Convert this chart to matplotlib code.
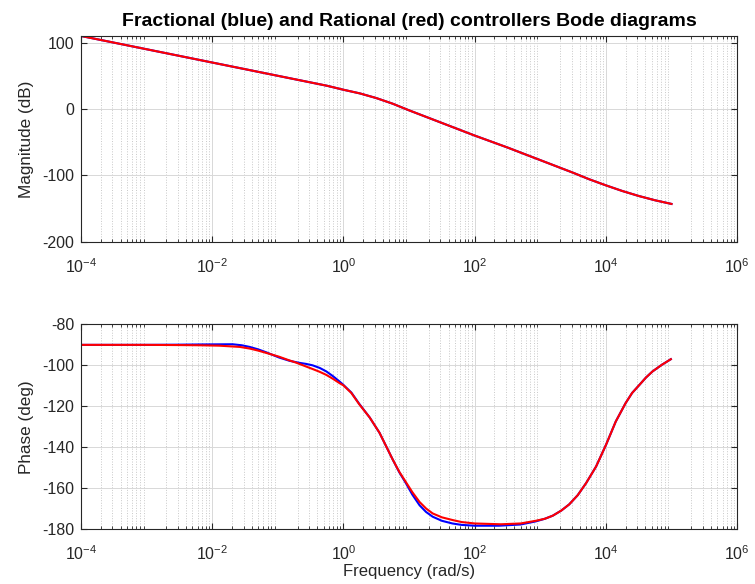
import numpy as np
import matplotlib
matplotlib.use("Agg")
import matplotlib.pyplot as plt
from matplotlib.ticker import LogLocator, NullFormatter

# -----------------------------------------------
# データ (log10 周波数, 値)
# -----------------------------------------------
mag_logw = [-4, -3.5, -3, -2.5, -2, -1.5, -1, -0.5, -0.25, 0, 0.25, 0.5, 0.75,
            1, 1.25, 1.5, 1.75, 2, 2.25, 2.5, 2.75, 3, 3.25, 3.5, 3.75,
            4, 4.25, 4.5, 4.75, 5]
mag_db = [110, 100, 90, 80, 70, 60, 50, 40, 35, 29, 23.5, 16.5, 8,
          -2, -11.5, -21, -30.5, -40, -49, -58, -67.5, -77, -86.5, -96, -106,
          -115, -123.5, -131, -137.5, -143]

red_logw = [-4, -3, -2.5, -2.19, -1.89, -1.58, -1.43, -1.3, -1.18, -0.98,
            -0.85, -0.72, -0.6, -0.47, -0.36, -0.26, -0.16, -0.06, 0.0, 0.12,
            0.24, 0.4, 0.55, 0.65, 0.75, 0.85, 0.95, 1.05, 1.16, 1.26,
            1.36, 1.5, 1.66, 1.8, 2.0, 2.4, 2.7, 2.93, 3.07, 3.19,
            3.32, 3.44, 3.57, 3.70, 3.85, 4.0, 4.15, 4.30, 4.4, 4.51,
            4.61, 4.71, 4.85, 4.99]
red_phase = [-90, -90, -90.1, -90.2, -90.4, -91, -91.8, -92.8, -93.9, -95.8,
             -97.3, -98.7, -100.2, -101.8, -103.2, -104.7, -106.6, -108.7, -109.8, -113.5,
             -119, -125.5, -133, -139.5, -146, -152, -157, -162, -166.8, -170,
             -172.4, -174.3, -175.6, -176.6, -177.3, -177.7, -177.3, -176, -175, -173.5,
             -171, -168, -163.5, -157.5, -149.5, -139, -127.5, -118.5, -113.5, -109.6,
             -106, -103, -99.8, -97]

blue_logw = [-4, -3, -2.5, -2.19, -1.69, -1.55, -1.43, -1.3, -1.18, -0.98,
             -0.82, -0.67, -0.57, -0.47, -0.36, -0.26, -0.16, -0.06, 0.0, 0.12,
             0.24, 0.4, 0.55, 0.65, 0.75, 0.85, 0.95, 1.05, 1.16, 1.26,
             1.36, 1.5, 1.66, 1.8, 2.0, 2.37, 2.7, 2.93, 3.07, 3.19,
             3.32, 3.44, 3.57, 3.70, 3.85, 4.0, 4.15, 4.30, 4.4, 4.51,
             4.61, 4.71, 4.85, 4.99]
blue_phase = [-90, -90, -89.9, -89.8, -89.7, -90.2, -91, -92.2, -93.6, -96.2,
              -97.8, -98.8, -99.3, -100, -101.3, -103, -105.3, -107.9, -109.6, -113.3,
              -118.8, -125.5, -133, -139.5, -146, -152.2, -157.5, -163.2, -168.4, -171.7,
              -174, -176, -177.3, -178, -178.4, -178.4, -177.8, -176.3, -175, -173.5,
              -171, -168, -163.5, -157.5, -149.5, -139, -127.5, -118.5, -113.5, -109.6,
              -106, -103, -99.8, -97]

# -----------------------------------------------
# グラフ
# -----------------------------------------------
plt.rcParams["font.family"] = ["Liberation Sans", "DejaVu Sans"]
plt.rcParams["mathtext.default"] = "regular"
plt.rcParams["axes.unicode_minus"] = False

TXT = "#262626"

fig = plt.figure(figsize=(7.55, 5.84), dpi=100)
ax1 = fig.add_axes([0.1073, 0.586, 0.869, 0.3524])
ax2 = fig.add_axes([0.1073, 0.0942, 0.869, 0.3503])


def style(ax):
    ax.set_xscale("log")
    ax.set_xlim(1e-4, 1e6)
    ax.xaxis.set_minor_locator(LogLocator(base=10, subs=np.arange(2, 10), numticks=20))
    ax.xaxis.set_minor_formatter(NullFormatter())
    ax.set_xticks([1e-4, 1e-2, 1e0, 1e2, 1e4, 1e6])
    ax.grid(True, which="major", color="#d8d8d8", linestyle="-", linewidth=0.7)
    ax.grid(True, which="minor", axis="x", color="#c8c8c8", linestyle=":", linewidth=0.7)
    ax.set_axisbelow(True)
    ax.tick_params(which="both", direction="in", top=True, right=True,
                   colors=TXT, labelsize=11.5)
    ax.tick_params(axis="x", which="major", pad=11)
    ax.tick_params(axis="y", which="major", pad=5)
    ax.tick_params(which="major", length=4)
    ax.tick_params(which="minor", length=2)
    for sp in ax.spines.values():
        sp.set_color(TXT)
        sp.set_linewidth(0.8)


style(ax1)
ax1.plot(10.0 ** np.array(mag_logw), mag_db, color="b", lw=1.5)
ax1.plot(10.0 ** np.array(mag_logw), mag_db, color="r", lw=1.5)
ax1.set_ylim(-200, 110)
ax1.set_yticks([-200, -100, 0, 100])
ax1.set_ylabel("Magnitude (dB)", fontsize=12.3, color=TXT, labelpad=6)
ax1.set_title("Fractional (blue) and Rational (red) controllers Bode diagrams",
              fontsize=14, fontweight="bold", color="black", pad=7)

style(ax2)
ax2.plot(10.0 ** np.array(blue_logw), blue_phase, color="b", lw=1.5)
ax2.plot(10.0 ** np.array(red_logw), red_phase, color="r", lw=1.5)
ax2.set_ylim(-180, -80)
ax2.set_yticks([-180, -160, -140, -120, -100, -80])
ax2.set_ylabel("Phase (deg)", fontsize=12.3, color=TXT, labelpad=6)
ax2.set_xlabel("Frequency (rad/s)", fontsize=12, color=TXT, labelpad=1)

plt.savefig("out.png", dpi=100)
